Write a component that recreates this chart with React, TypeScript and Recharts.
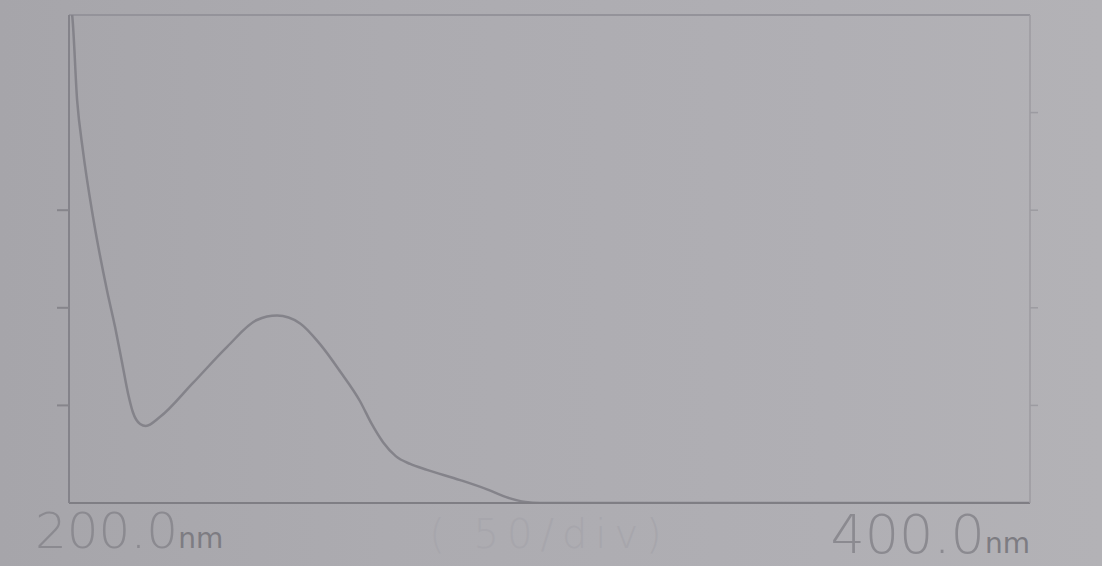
import React from "react";
import { LineChart, Line, XAxis, YAxis, ReferenceLine } from "recharts";

// wavelength (nm) vs absorbance
const wavelength = [
  200.0, 200.6, 201.7, 202.9, 205.0, 207.9, 209.6, 211.0, 212.3, 213.3, 214.8,
  216.0, 218.9, 225.8, 232.9, 239.1, 243.3, 248.1, 252.2, 256.4, 260.6, 263.0,
  265.4, 268.0, 271.0, 274.5, 281.4, 287.0, 291.0, 295.0, 298.0, 350.0, 400.0,
];
const absorbance = [
  5.1, 5.02, 4.12, 3.61, 2.93, 2.18, 1.8, 1.45, 1.12, 0.93, 0.81,
  0.79, 0.88, 1.23, 1.6, 1.875, 1.92, 1.84, 1.63, 1.35, 1.04, 0.81,
  0.62, 0.48, 0.4, 0.34, 0.235, 0.14, 0.06, 0.01, 0.0, 0.0, 0.0,
];
const xTicks = [200, 300, 400];
const leftTicks = [1, 2, 3];
const rightTicks = [1, 2, 3, 4];

const data = wavelength.map((w, i) => ({ w, a: absorbance[i] }));

const INK = "#84838a";
const FONT = "'DejaVu Sans', 'Liberation Sans', sans-serif";

function WaveTick({ x, payload }: any) {
  const v = payload.value;
  if (v === 300) {
    return (
      <text x={x} y={548} textAnchor="middle" fontFamily={FONT} fontSize={40}
            fontWeight={200} letterSpacing={8} fill="#a7a6ac">
        ( 50/div)
      </text>
    );
  }
  const start = v === 200;
  return (
    <text x={start ? x - 34 : x} y={start ? 548 : 553} textAnchor={start ? "start" : "end"}
          fontFamily={FONT} fill="#8b8a90">
      <tspan fontSize={start ? 50 : 54} fontWeight={200}>{v.toFixed(1)}</tspan>
      <tspan fontSize={28} fill="#7d7c82">nm</tspan>
    </text>
  );
}

export default function App() {
  return (
    <div style={{
      position: "absolute", left: 0, top: 0, width: 1102, height: 566,
      background: "linear-gradient(90deg, #a6a5aa 0%, #acabb0 35%, #b0afb4 75%, #b3b2b6 100%)",
    }}>
      <LineChart width={1102} height={566} data={data}
                 margin={{ top: 15, right: 0, bottom: 0, left: 0 }}>
        <XAxis dataKey="w" type="number" domain={[200, 400]} ticks={xTicks}
               height={63} tickLine={false} tick={<WaveTick />} interval={0}
               axisLine={{ stroke: "#7f7e84", strokeWidth: 2 }} />
        <YAxis yAxisId="left" domain={[0, 5]} allowDataOverflow ticks={leftTicks}
               width={69} tickSize={12} tickFormatter={() => ""}
               axisLine={{ stroke: "#84838a", strokeWidth: 2 }}
               tickLine={{ stroke: "#86858b", strokeWidth: 2 }} />
        <YAxis yAxisId="right" orientation="right" domain={[0, 5]} allowDataOverflow
               ticks={rightTicks} width={72} tickSize={8} tickFormatter={() => ""}
               axisLine={{ stroke: "#9c9ba1", strokeWidth: 1.5 }}
               tickLine={{ stroke: "#9c9ba1", strokeWidth: 1.5 }} />
        <ReferenceLine yAxisId="left" y={5} stroke="#94939a" strokeWidth={2} />
        <Line yAxisId="left" dataKey="a" type="monotone" stroke={INK} strokeWidth={2.5}
              dot={false} isAnimationActive={false} />
      </LineChart>
    </div>
  );
}
